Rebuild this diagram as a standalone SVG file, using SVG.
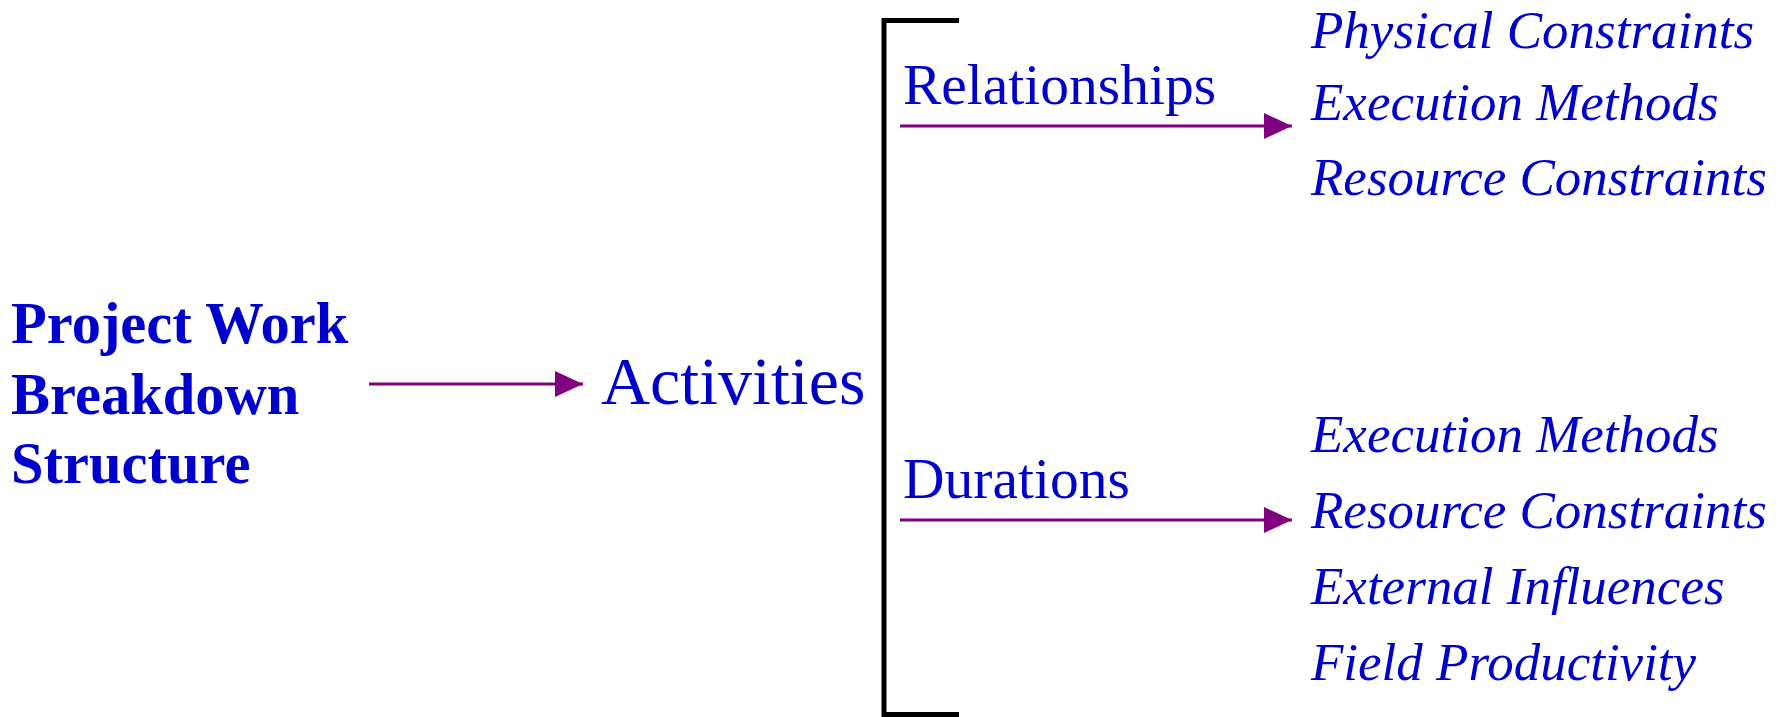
<svg xmlns="http://www.w3.org/2000/svg" width="1790" height="717" viewBox="0 0 1790 717">
<style>
.t{fill:#0000CC;font-family:"Liberation Serif","Times New Roman",serif}
.b{font-weight:bold;font-size:58.5px}
.act{font-size:68px}
.m{font-size:57.5px}
.i{font-style:italic;font-size:53px}
.c{stroke:#800080;stroke-width:3;fill:none}
.br{stroke:#000;stroke-width:5;fill:none}
</style>
<defs>
<marker id="ah" markerUnits="userSpaceOnUse" markerWidth="30" markerHeight="26" refX="28" refY="13" orient="auto">
<path d="M0,0 L28,13 L0,26 Z" fill="#800080"/>
</marker>
</defs>
<g id="pwbs"><text class="t b" x="11" y="343">Project Work</text><text class="t b" x="11" y="414">Breakdown</text><text class="t b" x="11" y="483">Structure</text></g>
<g id="activities"><text class="t act" x="601" y="404">Activities</text></g>
<g id="bracket"><path class="br" d="M959,20.5 H884 V714.5 H959"/></g>
<g id="relationships"><text class="t m" x="903" y="104">Relationships</text></g>
<g id="durations"><text class="t m" x="903" y="498">Durations</text></g>
<g id="rel-factors"><text class="t i" x="1311" y="48">Physical Constraints</text><text class="t i" x="1311" y="120">Execution Methods</text><text class="t i" x="1311" y="195">Resource Constraints</text></g>
<g id="dur-factors"><text class="t i" x="1311" y="452">Execution Methods</text><text class="t i" x="1311" y="528">Resource Constraints</text><text class="t i" x="1311" y="604">External Influences</text><text class="t i" x="1311" y="680">Field Productivity</text></g>
<g id="connectors">
<line class="c" x1="369" y1="384" x2="583" y2="384" marker-end="url(#ah)"/>
<line class="c" x1="900" y1="126" x2="1292" y2="126" marker-end="url(#ah)"/>
<line class="c" x1="900" y1="520" x2="1292" y2="520" marker-end="url(#ah)"/>
</g>
</svg>
